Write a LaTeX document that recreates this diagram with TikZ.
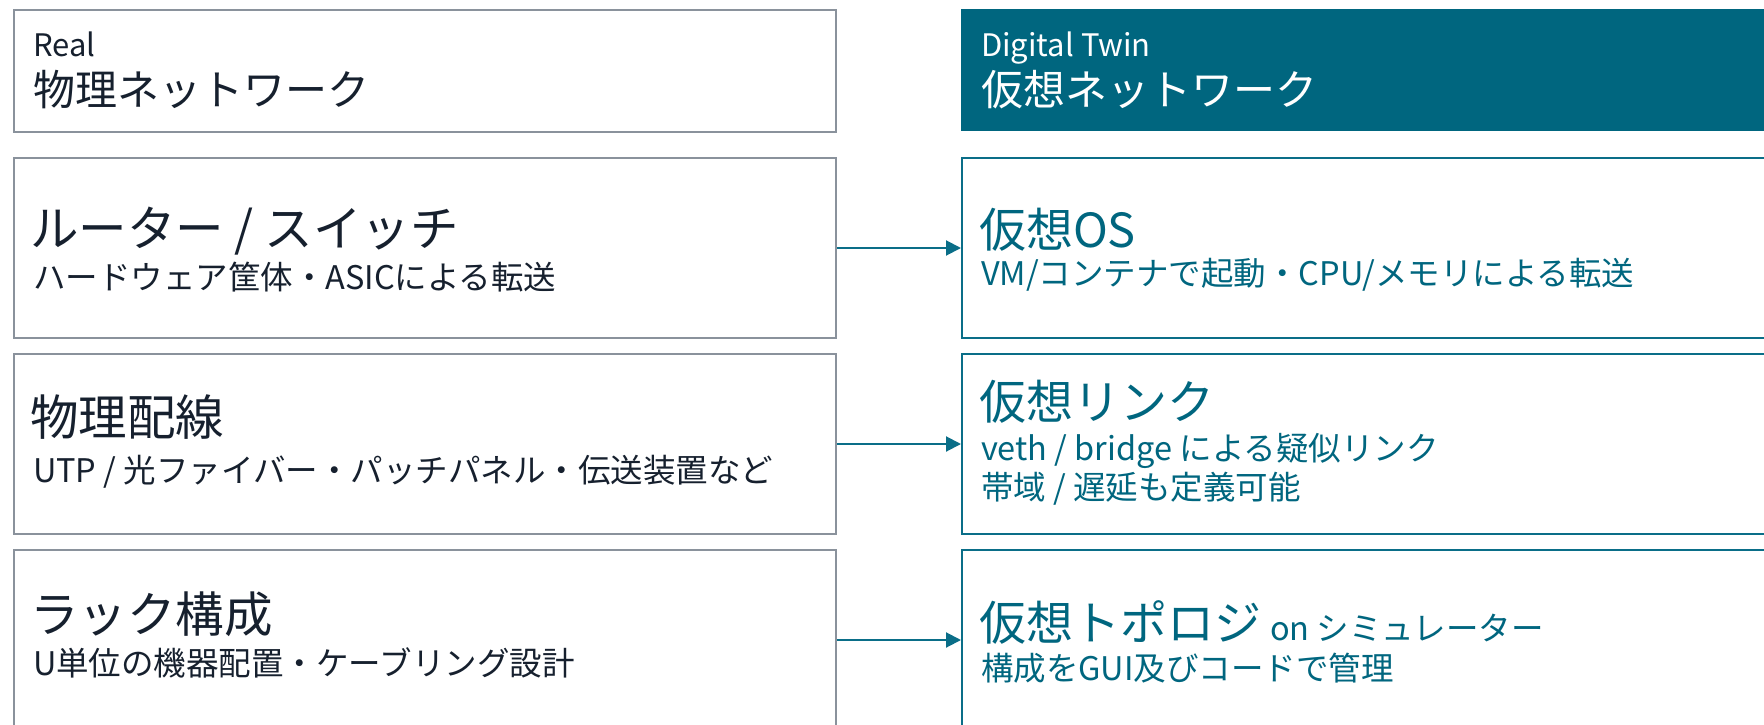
\documentclass[tikz,border=0pt]{standalone}
\usepackage{fontspec}
\setmainfont{Noto Sans CJK JP}
\usetikzlibrary{arrows.meta}
\definecolor{leftline}{HTML}{8A929C}
\definecolor{lefttext}{HTML}{16202E}
\definecolor{teal}{HTML}{00667F}
\definecolor{tealline}{HTML}{0A6E88}
\tikzset{
  leftbox/.style={draw=leftline, line width=2pt, fill=white, rectangle, anchor=north west, inner sep=0pt, minimum width=822pt},
  rightbox/.style={draw=tealline, line width=2pt, fill=white, rectangle, anchor=north west, inner sep=0pt, minimum width=830pt},
  headfill/.style={fill=teal, draw=none, rectangle, anchor=north west, inner sep=0pt, minimum width=830pt, minimum height=122pt},
  txt/.style={anchor=base west, inner sep=0pt, outer sep=0pt},
  ltitle/.style={txt, text=lefttext, font=\fontsize{48.5}{52}\selectfont},
  lsub/.style={txt, text=lefttext, font=\fontsize{32.5}{36}\selectfont},
  rtitle/.style={txt, text=teal, font=\fontsize{47}{50}\selectfont},
  rsub/.style={txt, text=teal, font=\fontsize{32.5}{36}\selectfont},
  conn/.style={draw=tealline, line width=2pt, -{Triangle[length=15pt,width=15pt]}}
}
\begin{document}
\begin{tikzpicture}[x=1pt,y=-1pt]
\clip (0,0) rectangle (1764,725);
\fill[white] (0,0) rectangle (1764,725);
% header
\node[leftbox, minimum height=122pt] (lh) at (13,9) {};
\node[headfill] (rh) at (961,9) {};
\node[txt, text=lefttext, font=\fontsize{31}{34}\selectfont] (lhs) at (33,57) {Real};
\node[txt, text=lefttext, font=\fontsize{42}{46}\selectfont] (lht) at (33,105) {物理ネットワーク};
\node[txt, text=white, font=\fontsize{31}{34}\selectfont] (rhs) at (981,57) {Digital Twin};
\node[txt, text=white, font=\fontsize{42}{46}\selectfont] (rht) at (981,105) {仮想ネットワーク};
% left boxes
\node[leftbox, minimum height=180pt] (l1) at (13,157) {};
\node[leftbox, minimum height=180pt] (l2) at (13,353) {};
\node[leftbox, minimum height=180pt] (l3) at (13,549) {};
% right boxes
\node[rightbox, minimum height=180pt] (r1) at (961,157) {};
\node[rightbox, minimum height=180pt] (r2) at (961,353) {};
\node[rightbox, minimum height=180pt] (r3) at (961,549) {};
% connectors
\draw[conn] (l1.east) -- (r1.west);
\draw[conn] (l2.east) -- (r2.west);
\draw[conn] (l3.east) -- (r3.west);
% left texts
\node[ltitle] (l1t) at (30,246) {ルーター / スイッチ};
\node[lsub] (l1s) at (33,289) {ハードウェア筐体・ASICによる転送};
\node[ltitle] (l2t) at (30,435) {物理配線};
\node[lsub] (l2s) at (33,482) {UTP / 光ファイバー・パッチパネル・伝送装置など};
\node[ltitle] (l3t) at (30,632) {ラック構成};
\node[lsub] (l3s) at (33,675) {U単位の機器配置・ケーブリング設計};
% right texts
\node[rtitle] (r1t) at (979,247) {仮想OS};
\node[rsub] (r1s) at (981,285) {VM/コンテナで起動・CPU/メモリによる転送};
\node[rtitle] (r2t) at (979,419) {仮想リンク};
\node[rsub] (r2s) at (981,460) {veth / bridge による疑似リンク};
\node[rsub] (r2s2) at (981,499) {帯域 / 遅延も定義可能};
\node[rtitle] (r3t) at (979,640) {仮想トポロジ};
\node[rsub] (r3o) at ([xshift=9pt]r3t.base east) {on シミュレーター};
\node[rsub] (r3s) at (981,680) {構成をGUI及びコードで管理};
\end{tikzpicture}
\end{document}
